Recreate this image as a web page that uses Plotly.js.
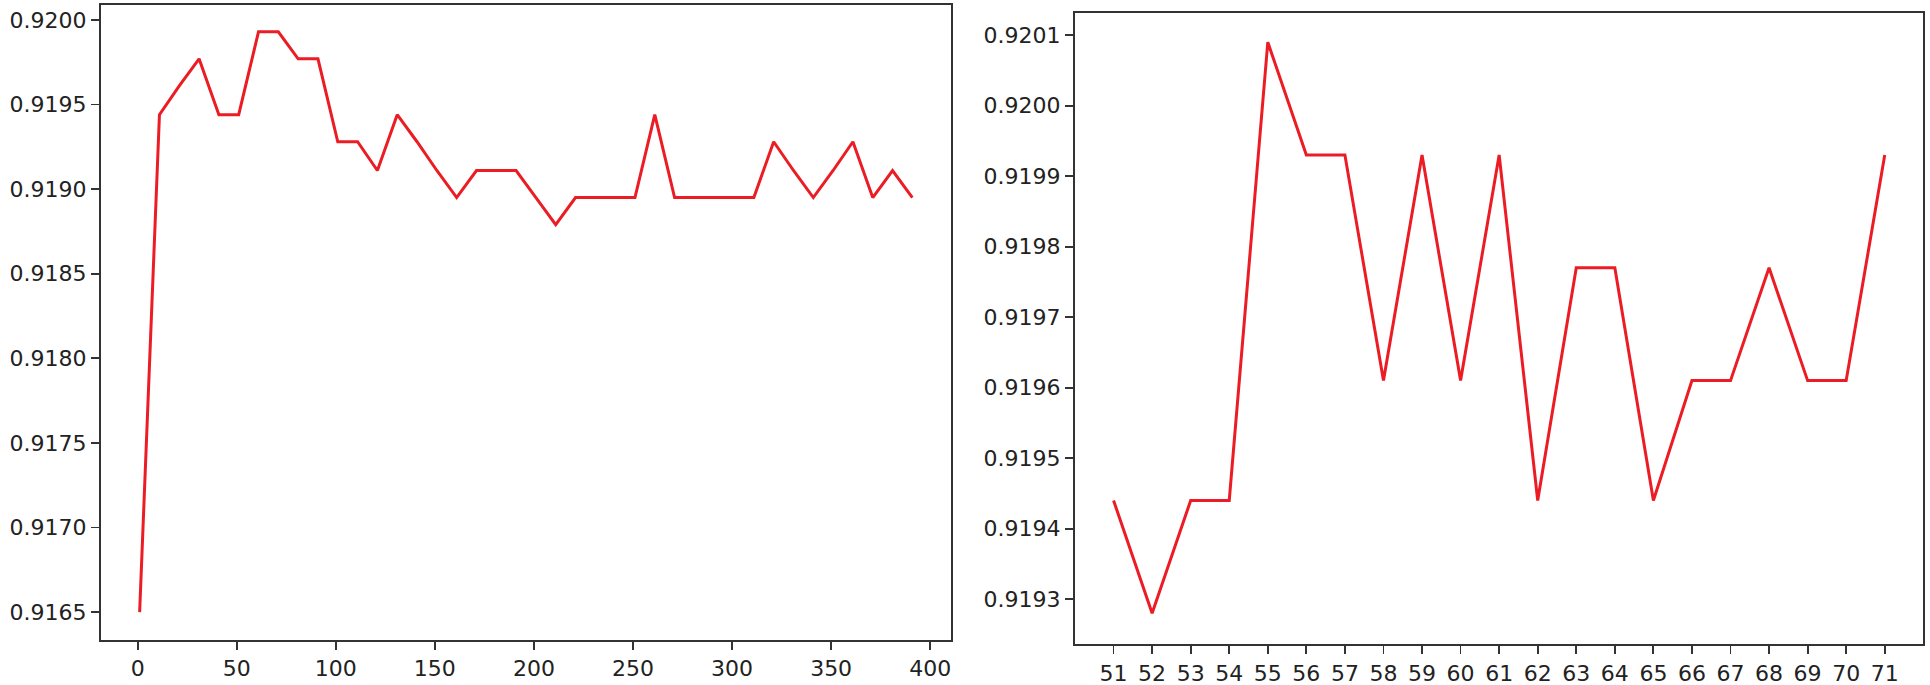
<!DOCTYPE html>
<html>
<head>
<meta charset="utf-8">
<script src="https://cdn.plot.ly/plotly-3.0.1.min.js"></script>
<style>html,body{margin:0;padding:0;background:#fff;}#chart{width:1930px;height:685px;}</style>
</head>
<body>
<div id="chart"></div>
<script>
// Left panel: iterations vs accuracy
const leftX = [1, 11, 21, 31, 41, 51, 61, 71, 81, 91, 101, 111, 121, 131, 141, 151, 161, 171, 181, 191,
               201, 211, 221, 231, 241, 251, 261, 271, 281, 291, 301, 311, 321, 331, 341, 351, 361, 371, 381, 391];
const leftY = [0.91650, 0.91944, 0.91961, 0.91977, 0.91944, 0.91944, 0.91993, 0.91993, 0.91977, 0.91977,
               0.91928, 0.91928, 0.91911, 0.91944, 0.91928, 0.91911, 0.91895, 0.91911, 0.91911, 0.91911,
               0.91895, 0.91879, 0.91895, 0.91895, 0.91895, 0.91895, 0.91944, 0.91895, 0.91895, 0.91895,
               0.91895, 0.91895, 0.91928, 0.91911, 0.91895, 0.91911, 0.91928, 0.91895, 0.91911, 0.91895];
const leftTicks = [0, 50, 100, 150, 200, 250, 300, 350, 400];

// Right panel: fine search 51..71
const rightX = [51, 52, 53, 54, 55, 56, 57, 58, 59, 60, 61, 62, 63, 64, 65, 66, 67, 68, 69, 70, 71];
const rightY = [0.91944, 0.91928, 0.91944, 0.91944, 0.92009, 0.91993, 0.91993, 0.91961, 0.91993, 0.91961,
                0.91993, 0.91944, 0.91977, 0.91977, 0.91944, 0.91961, 0.91961, 0.91977, 0.91961, 0.91961,
                0.91993];

const lineColor = 'rgb(236,28,36)';
const W = 1930, H = 685;
const fontSpec = {family: 'DejaVu Sans, sans-serif', size: 22, color: '#222'};

function axisCommon() {
  return {
    showline: true, mirror: true, linecolor: '#333', linewidth: 2,
    ticks: 'outside', ticklen: 8, tickwidth: 1.8, tickcolor: '#333',
    showgrid: false, zeroline: false, automargin: false,
    tickfont: fontSpec
  };
}

const traces = [
  {x: leftX, y: leftY, type: 'scatter', mode: 'lines', line: {color: lineColor, width: 3},
   xaxis: 'x', yaxis: 'y', hoverinfo: 'skip'},
  {x: rightX, y: rightY, type: 'scatter', mode: 'lines', line: {color: lineColor, width: 3},
   xaxis: 'x2', yaxis: 'y2', hoverinfo: 'skip'}
];

const layout = {
  width: W, height: H,
  margin: {l: 0, r: 0, t: 0, b: 0},
  paper_bgcolor: '#fff', plot_bgcolor: '#fff',
  showlegend: false,
  xaxis: Object.assign(axisCommon(), {
    domain: [101 / W, 951 / W], anchor: 'y',
    range: [-18.5, 410.5], tickmode: 'array', tickvals: leftTicks
  }),
  yaxis: Object.assign(axisCommon(), {
    domain: [1 - 640 / H, 1 - 4.7 / H], anchor: 'x',
    range: [0.916335, 0.92009], tick0: 0.9165, dtick: 0.0005, tickformat: '.4f'
  }),
  xaxis2: Object.assign(axisCommon(), {
    domain: [1075 / W, 1923.3 / W], anchor: 'y2',
    range: [50, 72], tickmode: 'array', tickvals: rightX
  }),
  yaxis2: Object.assign(axisCommon(), {
    domain: [1 - 644.3 / H, 1 - 13.3 / H], anchor: 'x2',
    range: [0.919236, 0.920131], tick0: 0.9193, dtick: 0.0001, tickformat: '.4f'
  })
};

Plotly.newPlot('chart', traces, layout, {staticPlot: true, displayModeBar: false});
</script>
</body>
</html>
